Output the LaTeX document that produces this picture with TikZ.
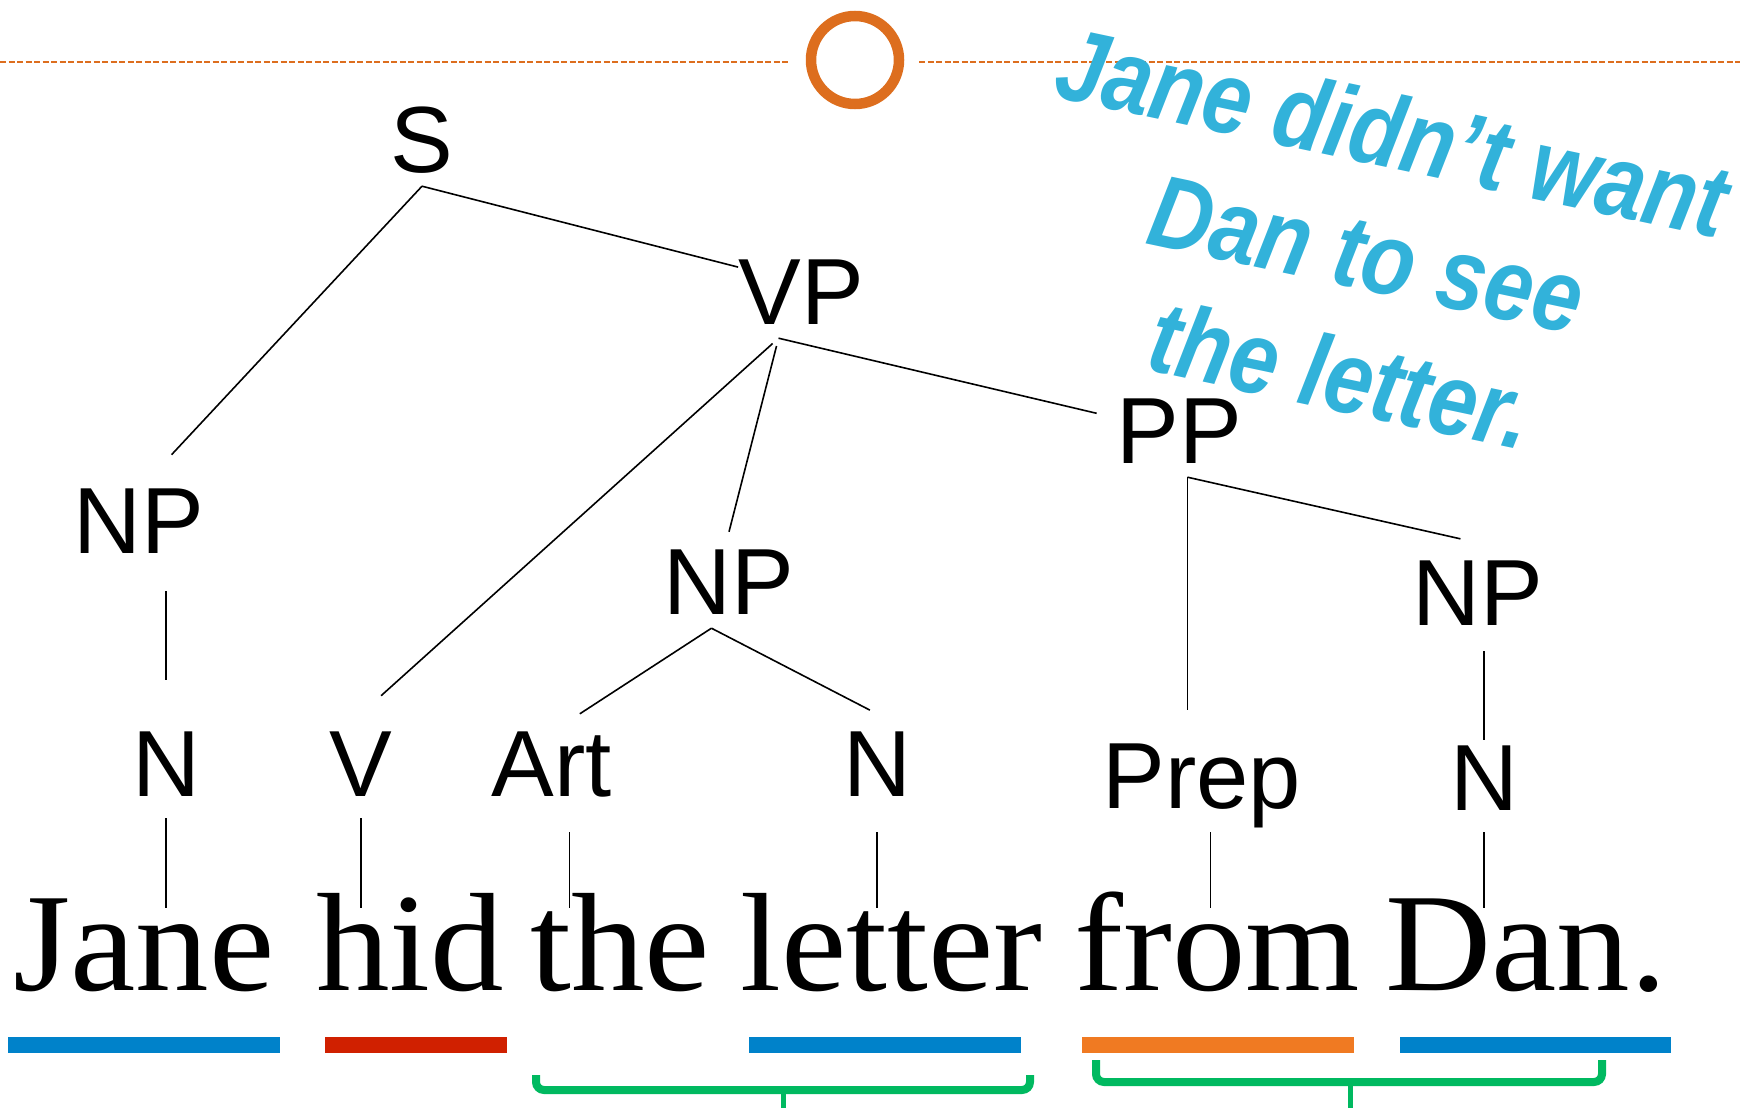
\documentclass[tikz,border=0pt]{standalone}
\usepackage{graphicx}
\usepackage{fontspec}
\setmainfont{Liberation Serif}
\setsansfont{Liberation Sans}
\newfontfamily\sentfont{Liberation Serif}[FakeStretch=1.05]
\usetikzlibrary{calc}
\definecolor{ringorange}{RGB}{221,110,30}
\definecolor{ulblue}{RGB}{0,130,202}
\definecolor{ulred}{RGB}{208,32,0}
\definecolor{ulorange}{RGB}{240,122,34}
\definecolor{bracegreen}{RGB}{0,185,96}
\definecolor{artblue}{RGB}{50,178,218}

\begin{document}
\begin{tikzpicture}[x=1pt,y=-1pt,
		cat/.style={font=\sffamily\fontsize{94}{110}\selectfont,inner xsep=0pt,inner ysep=14pt,text height=68pt,text depth=0pt,anchor=base},
		word/.style={font=\sentfont\fontsize{140}{160}\selectfont,inner sep=0pt,text height=82pt,text depth=0pt,anchor=base west},
		branch/.style={line width=1.6pt},
		uline/.style={line width=16pt},
		bracket/.style={bracegreen,line width=8pt,rounded corners=8pt}]
			\useasboundingbox (0,0) rectangle (1740,1108);
			% header rule and ring
			\draw[ringorange,line width=2pt,dash pattern=on 6pt off 2.5pt] (0,62) -- (790,62);
			\draw[ringorange,line width=2pt,dash pattern=on 6pt off 2.5pt] (919,62) -- (1740,62);
			\draw[ringorange,line width=10.5pt] (855,60) circle (44pt);
			% caption
			\node[rotate=-12,text=artblue,align=center,font=\sffamily\bfseries\itshape\fontsize{87}{124}\selectfont] (quote) at (1367,253)
				{\scalebox{1}[1.18]{Jane didn’t want}\\ \scalebox{1}[1.18]{Dan to see}\\ \scalebox{1}[1.18]{the letter.}};
			% categories
			\node[cat] (S) at (422,172) {S};
			\node[cat] (VP) at (801,324) {VP};
			\node[cat] (NPa) at (139,553) {NP};
			\node[cat] (NPb) at (729,614) {NP};
			\node[cat] (PP) at (1179,463) {PP};
			\node[cat] (NPc) at (1478,625) {NP};
			\node[cat] (Na) at (166,796) {N};
			\node[cat] (V) at (361,796) {V};
			\node[cat] (Art) at (552,796) {Art};
			\node[cat] (Nb) at (877,796) {N};
			\node[cat] (Prep) at (1202,808) {Prep};
			\node[cat] (Nc) at (1484,810) {N};
			% sentence
			\node[word] (jane) at (13,990) {Jane};
			\node[word] (hid) at (316,990) {hid};
			\node[word] (the) at (530,990) {the};
			\node[word] (letter) at (740,990) {letter};
			\node[word] (from) at (1074,990) {from};
			\node[word] (dan) at (1385,990) {Dan.};
			% branches
			\draw[branch,shorten >=22pt] (S.south) -- (NPa.70);
			\draw[branch] (S.south) -- (VP.160);
			\draw[branch,shorten <=8pt,shorten >=27pt] (VP.245) -- (V.north);
			\draw[branch,shorten <=8pt] (VP.245) -- (NPb.north);
			\draw[branch,shorten >=20pt] (VP.245) -- (PP.170);
			\draw[branch,shorten <=24pt,shorten >=34pt] (Na.north |- NPa.south) -- (Na.north);
			\draw[branch] (NPb.250) -- (Art.60);
			\draw[branch,shorten >=8pt] (NPb.250) -- (Nb.north);
			\draw[branch,shorten >=16pt] (PP.280) -- (PP.280 |- Prep.north);
			\draw[branch,shorten >=18pt] (PP.280) -- (NPc.north);
			\draw[branch,shorten <=12pt,shorten >=-12pt] (Nc.north |- NPc.south) -- (Nc.north);
			% down to the words
			\draw[branch,shorten <=8pt] (Na.south) -- (Na.south |- jane.north);
			\draw[branch,shorten <=8pt] (V.south) -- (V.south |- hid.north);
			\draw[branch,shorten <=22pt] (Art.-70) -- (Art.-70 |- the.north);
			\draw[branch,shorten <=22pt] (Nb.south) -- (Nb.south |- letter.north);
			\draw[branch,shorten <=10pt] (Prep.-80) -- (Prep.-80 |- from.north);
			\draw[branch,shorten <=8pt] (Nc.south) -- (Nc.south |- dan.north);
			% underlines
			\draw[uline,ulblue] (8,1045) -- (280,1045);
			\draw[uline,ulred] (325,1045) -- (507,1045);
			\draw[uline,ulblue] (749,1045) -- (1021,1045);
			\draw[uline,ulorange] (1082,1045) -- (1354,1045);
			\draw[uline,ulblue] (1400,1045) -- (1671,1045);
			% brackets
			\draw[bracket] (536,1075) -- (536,1090) -- (1030,1090) -- (1030,1075);
			\draw[bracegreen,line width=5pt] (783,1090) -- (783,1108);
			\draw[bracket] (1096,1060) -- (1096,1082) -- (1602,1082) -- (1602,1060);
			\draw[bracegreen,line width=5pt] (1350,1082) -- (1350,1108);
		\end{tikzpicture}
\end{document}
